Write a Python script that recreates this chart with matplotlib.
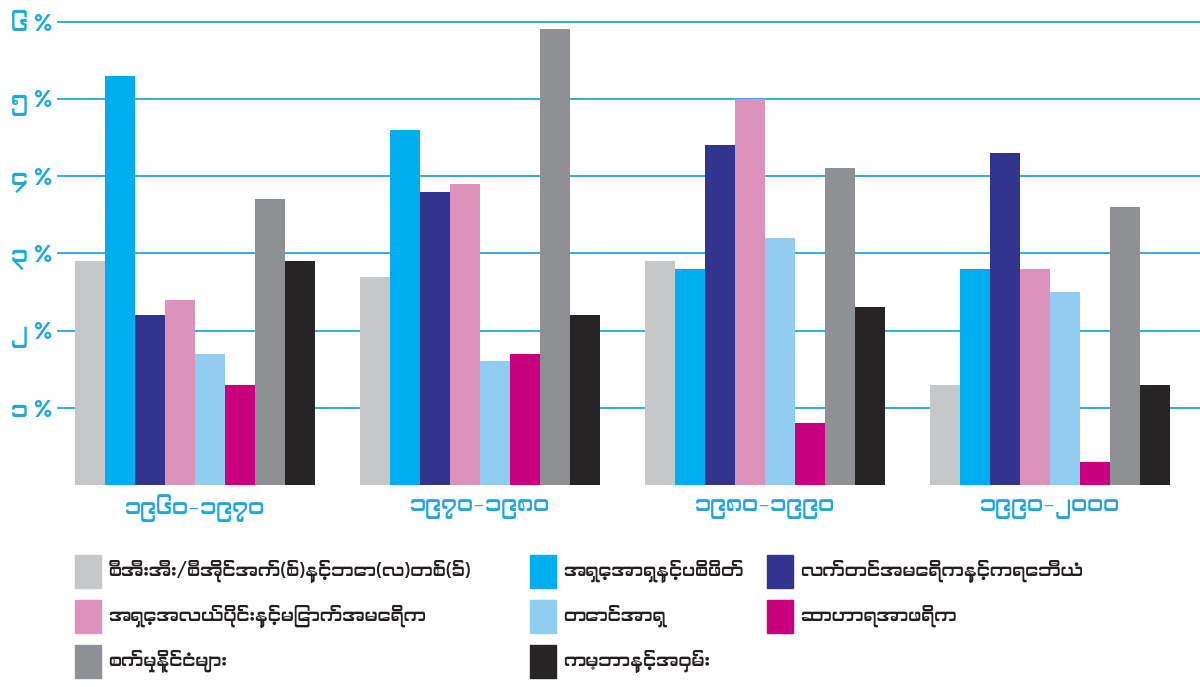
import matplotlib
matplotlib.use('Agg')
import matplotlib.pyplot as plt
from matplotlib import font_manager
from matplotlib.patches import Rectangle

# decades (Myanmar digits)
decades = ['၁၉၆၀–၁၉၇၀', '၁၉၇၀–၁၉၈၀', '၁၉၈၀–၁၉၉၀', '၁၉၉၀–၂၀၀၀']
ytick_labels = ['၁ %', '၂ %', '၃ %', '၄ %', '၅ %', '၆ %']

regions = ['စီအီးအီး/စီအိုင်အက်(စ်)နှင့်ဘော(လ)တစ်(ခ်)',
           'အရှေ့အာရှနှင့်ပစိဖိတ်',
           'လက်တင်အမေရိကနှင့်ကရေဘီယံ',
           'အရှေ့အလယ်ပိုင်းနှင့်မြောက်အမေရိက',
           'တောင်အာရှ',
           'ဆာဟာရအာဖရိက',
           'စက်မှုနိုင်ငံများ',
           'ကမ္ဘာနှင့်အဝှမ်း']

# growth rate (%) per region, one value per decade
cee_baltics   = [2.9, 2.7, 2.9, 1.3]
east_asia     = [5.3, 4.6, 2.8, 2.8]
latin_america = [2.2, 3.8, 4.4, 4.3]
mid_east      = [2.4, 3.9, 5.0, 2.8]
south_asia    = [1.7, 1.6, 3.2, 2.5]
ssa           = [1.3, 1.7, 0.8, 0.3]
industrial    = [3.7, 5.9, 4.1, 3.6]
world         = [2.9, 2.2, 2.3, 1.3]

series = [cee_baltics, east_asia, latin_america, mid_east,
          south_asia, ssa, industrial, world]
colors = ['#c6c7c9', '#00aeef', '#33348e', '#dd92bb',
          '#90cdf0', '#c8007f', '#8e9094', '#262425']

# look for something that can draw Myanmar script
fams = []
for f in font_manager.fontManager.ttflist:
    if any(k in f.name for k in ('Myanmar', 'Padauk', 'Pyidaungsu', 'Zawgyi')):
        if f.name not in fams:
            fams.append(f.name)
plt.rcParams['font.family'] = fams + ['DejaVu Sans']

cyan = '#1fa8e0'

fig = plt.figure(figsize=(12, 6.87), dpi=100)
ax = fig.add_axes([57 / 1200, 1 - 485 / 687, 1 - 57 / 1200, (485 - 14) / 687])

w = 0.105
for k, vals in enumerate(series):
    xs = [i + (k - 3.5) * w for i in range(len(decades))]
    ax.bar(xs, vals, width=w, color=colors[k], zorder=3)

ax.set_ylim(0, 6.1)
ax.set_xlim(-0.484, 3.526)
ax.set_yticks([1, 2, 3, 4, 5, 6])
ax.set_yticklabels(ytick_labels, color=cyan, fontsize=17, fontweight='bold')
ax.tick_params(axis='y', length=0, pad=3)
ax.set_xticks([])
ax.grid(axis='y', color=cyan, lw=1.3, zorder=0)
for s in ax.spines.values():
    s.set_visible(False)

for i, d in enumerate(decades):
    ax.text(i, -0.3, d, ha='center', va='center', color=cyan,
            fontsize=16, fontweight='bold')

# legend laid out in three columns like the original
col_x = [75, 530, 767]
row_y = [555, 600, 645]
for k, lab in enumerate(regions):
    r, c = divmod(k, 3)
    x0, y0 = col_x[c], row_y[r]
    fig.add_artist(Rectangle((x0 / 1200, 1 - (y0 + 33) / 687), 26 / 1200, 33 / 687,
                             transform=fig.transFigure, color=colors[k]))
    fig.text((x0 + 33) / 1200, 1 - (y0 + 16) / 687, lab, ha='left', va='center',
             fontsize=13, fontweight='bold', color='#231f20')

fig.savefig('out.png', dpi=100, facecolor='white')
